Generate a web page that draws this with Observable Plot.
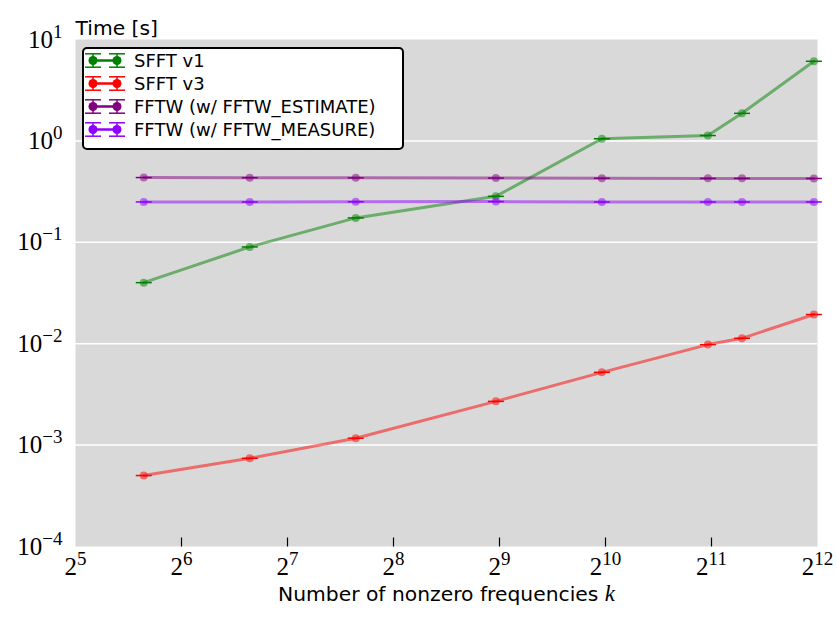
<!DOCTYPE html>
<html>
<head>
<meta charset="utf-8">
<script src="https://cdn.jsdelivr.net/npm/d3@7"></script>
<script src="https://cdn.jsdelivr.net/npm/@observablehq/plot@0.6"></script>
<style>
  html, body { margin: 0; padding: 0; background: white; }
  #wrap { position: relative; width: 837px; height: 618px; }
  #legend {
    position: absolute; left: 82px; top: 47px; width: 322px; height: 103px;
    box-sizing: border-box; border: 2px solid black; border-radius: 5px;
    background: white; font-family: "DejaVu Sans", sans-serif; font-size: 18px;
  }
  .row { position: relative; height: 23px; display: flex; align-items: center; }
  .row svg { width: 50px; height: 23px; flex: none; }
  .row span { margin-left: 0px; white-space: nowrap; }
</style>
</head>
<body>
<div id="wrap"><div id="legend"></div></div>
<script>
// ---- data ----
const kValues = [50, 100, 200, 500, 1000, 2000, 2500, 4000];
const seriesNames = ["SFFT v1", "SFFT v3", "FFTW (w/ FFTW_ESTIMATE)", "FFTW (w/ FFTW_MEASURE)"];
const seriesColors = ["#008000", "#ff0000", "#800080", "#8f00ff"];
const sfftV1 = [0.040, 0.090, 0.174, 0.284, 1.05, 1.13, 1.87, 6.1];
const sfftV3 = [0.000501, 0.000741, 0.00117, 0.0027, 0.00522, 0.0098, 0.0113, 0.0194];
const fftwEstimate = [0.435, 0.433, 0.432, 0.430, 0.428, 0.427, 0.427, 0.426];
const fftwMeasure = [0.250, 0.250, 0.251, 0.252, 0.250, 0.250, 0.250, 0.250];
const xTickValues = [32, 64, 128, 256, 512, 1024, 2048, 4096];
const xTickMarks = [64, 128, 256, 512, 1024, 2048];
const yTickValues = [1e-4, 1e-3, 1e-2, 1e-1, 1, 10];
const yGridValues = [1e-3, 1e-2, 1e-1, 1];
const xLabel = "Number of nonzero frequencies k";
const yLabel = "Time [s]";

const allSeries = [sfftV1, sfftV3, fftwEstimate, fftwMeasure];
const data = [];
allSeries.forEach((vals, si) => vals.forEach((t, i) => data.push({series: seriesNames[si], k: kValues[i], t})));

const capSymbol = { draw(ctx) { ctx.moveTo(-8, 0); ctx.lineTo(8, 0); } };
const tickSymbol = { draw(ctx) { ctx.moveTo(0, 0); ctx.lineTo(0, -9); } };

const chart = Plot.plot({
  width: 837, height: 618,
  marginLeft: 75, marginRight: 20, marginTop: 39, marginBottom: 72,
  x: {type: "log", base: 2, domain: [32, 4096], axis: null},
  y: {type: "log", domain: [1e-4, 10], axis: null},
  color: {domain: seriesNames, range: seriesColors},
  style: {background: "white", overflow: "visible"},
  marks: [
    Plot.frame({fill: "#d9d9d9", stroke: "none"}),
    Plot.ruleY(yGridValues, {stroke: "white", strokeWidth: 1.5}),
    Plot.dot(xTickMarks, {x: d => d, frameAnchor: "bottom", symbol: tickSymbol, stroke: "black", strokeWidth: 1.2}),
    Plot.line(data, {x: "k", y: "t", z: "series", stroke: "series", strokeWidth: 3, strokeOpacity: 0.5}),
    Plot.dot(data, {x: "k", y: "t", fill: "series", fillOpacity: 0.5, r: 4, stroke: "none"}),
    Plot.dot(data, {x: "k", y: "t", stroke: "series", symbol: capSymbol, strokeWidth: 1.5}),
    Plot.text(xTickValues, {x: d => d, frameAnchor: "bottom", dy: 28, text: d => "2^" + Math.round(Math.log2(d)),
      fontFamily: "Liberation Serif, serif", fontSize: 25, fill: "black"}),
    Plot.text(yTickValues, {y: d => d, frameAnchor: "left", dx: -13, textAnchor: "end", text: d => "10^" + Math.round(Math.log10(d)),
      fontFamily: "Liberation Serif, serif", fontSize: 25, fill: "black"}),
    Plot.text([xLabel], {frameAnchor: "bottom", dy: 54, text: d => d, fontFamily: "DejaVu Sans, sans-serif", fontSize: 20.3, fill: "black"}),
    Plot.text([yLabel], {frameAnchor: "top-left", dy: -19, textAnchor: "start", text: d => d, fontFamily: "DejaVu Sans, sans-serif", fontSize: 20.3, fill: "black"})
  ]
});

// superscripts and italic k
chart.querySelectorAll("text").forEach(t => {
  const txt = t.textContent;
  const m = txt.match(/^(\d+)\^(-?\d+)$/);
  if (m) {
    t.textContent = m[1];
    const ts = document.createElementNS("http://www.w3.org/2000/svg", "tspan");
    ts.setAttribute("font-size", "19");
    ts.setAttribute("dy", "-10");
    ts.textContent = m[2].replace("-", "\u2212");
    t.appendChild(ts);
  } else if (txt === xLabel) {
    t.textContent = xLabel.slice(0, -1);
    const ts = document.createElementNS("http://www.w3.org/2000/svg", "tspan");
    ts.setAttribute("font-style", "italic");
    ts.setAttribute("font-family", "Liberation Serif, serif");
    ts.setAttribute("font-size", "23");
    ts.textContent = "k";
    t.appendChild(ts);
  }
});

document.getElementById("wrap").insertBefore(chart, document.getElementById("legend"));
chart.style.position = "absolute"; chart.style.left = "0"; chart.style.top = "0";

// legend
const legend = document.getElementById("legend");
seriesNames.forEach((name, i) => {
  const c = seriesColors[i];
  const row = document.createElement("div");
  row.className = "row";
  const cy = 11.5;
  let s = `<svg viewBox="0 0 50 23"><line x1="9" x2="33" y1="${cy}" y2="${cy}" stroke="${c}" stroke-width="2.5"/>`;
  for (const cx of [9, 33]) {
    s += `<line x1="${cx}" x2="${cx}" y1="${cy-6.7}" y2="${cy+6.7}" stroke="${c}" stroke-width="1.5"/>`;
    s += `<line x1="${cx-8}" x2="${cx+8}" y1="${cy-6.7}" y2="${cy-6.7}" stroke="${c}" stroke-width="1.5"/>`;
    s += `<line x1="${cx-8}" x2="${cx+8}" y1="${cy+6.7}" y2="${cy+6.7}" stroke="${c}" stroke-width="1.5"/>`;
    s += `<circle cx="${cx}" cy="${cy}" r="4.5" fill="${c}"/>`;
  }
  s += `</svg><span>${name}</span>`;
  row.innerHTML = s;
  legend.appendChild(row);
});
</script>
</body>
</html>
